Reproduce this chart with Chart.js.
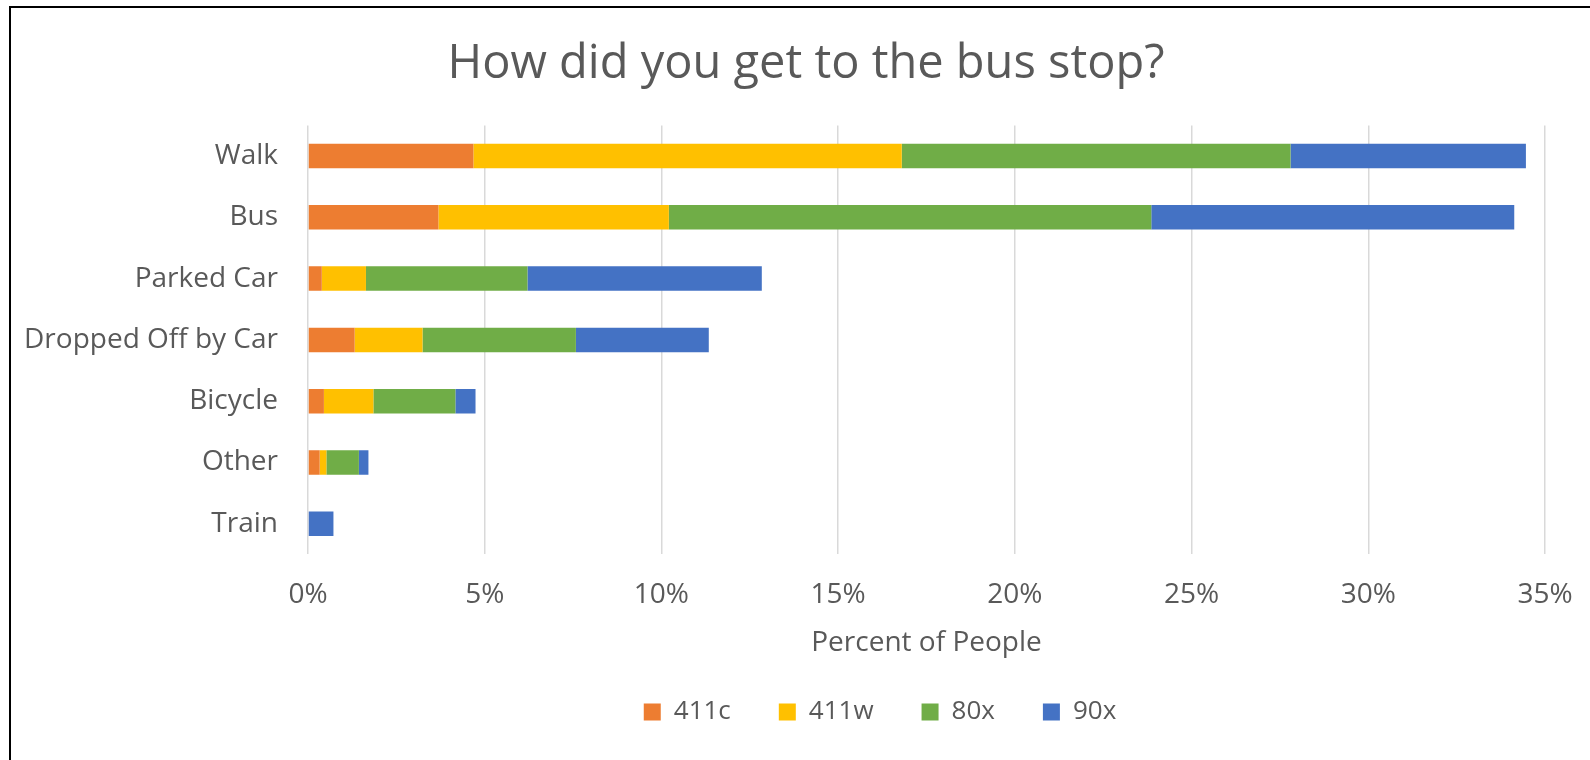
<!DOCTYPE html>
<html>
<head>
<meta charset="utf-8">
<script src="https://cdn.jsdelivr.net/npm/chart.js@4/dist/chart.umd.min.js"></script>
<style>
  body { margin: 0; background: #fff; }
  #wrap { position: relative; width: 1590px; height: 760px; }
  #frame {
    position: absolute; left: 9px; top: 6px; right: 0; bottom: 0;
    border-left: 2px solid #000; border-top: 2px solid #000;
    pointer-events: none;
  }
</style>
</head>
<body>
<div id="wrap">
  <canvas id="busChart" width="1590" height="760"></canvas>
  <div id="frame"></div>
</div>
<script>
// Categories (top to bottom)
const categories = ["Walk", "Bus", "Parked Car", "Dropped Off by Car", "Bicycle", "Other", "Train"];

// Percent of people per route
const route411c = [4.68, 3.69, 0.39, 1.32, 0.45, 0.33, 0];
const route411w = [12.12, 6.52, 1.25, 1.92, 1.40, 0.19, 0];
const route80x = [11.00, 13.65, 4.57, 4.34, 2.32, 0.92, 0];
const route90x = [6.66, 10.27, 6.63, 3.76, 0.57, 0.27, 0.72];

// Axis ticks
const xTicks = [0, 5, 10, 15, 20, 25, 30, 35];

const textColor = "#595959";
const fontFamily = "'Open Sans', 'DejaVu Sans', sans-serif";

// title and legend are not centred on the same point in the original
const shiftBlocks = {
    id: "shiftBlocks",
    afterLayout(chart) {
        chart.titleBlock.left += 33.5;
        chart.titleBlock.right += 33.5;
        chart.legend.left += 107.5;
        chart.legend.right += 107.5;
    },
};

const data = {
    labels: categories,
    datasets: [
        { label: "411c", data: route411c, backgroundColor: "#ED7D31" },
        { label: "411w", data: route411w, backgroundColor: "#FFC000" },
        { label: "80x", data: route80x, backgroundColor: "#70AD47" },
        { label: "90x", data: route90x, backgroundColor: "#4472C4" },
    ],
};

const config = {
    type: "bar",
    data: data,
    plugins: [shiftBlocks],
    options: {
        indexAxis: "y",
        responsive: false,
        animation: false,
        layout: {
            autoPadding: false,
            padding: { left: 0, right: 45, top: 0, bottom: 25 },
        },
        datasets: {
            bar: { categoryPercentage: 1, barPercentage: 0.4, borderWidth: 0 },
        },
        plugins: {
            tooltip: { enabled: false },
            title: {
                display: true,
                text: "How did you get to the bus stop?",
                color: textColor,
                font: { family: fontFamily, size: 47, weight: "normal", lineHeight: 1.2 },
                padding: { top: 36, bottom: 33 },
            },
            legend: {
                position: "bottom",
                labels: {
                    color: textColor,
                    font: { family: fontFamily, size: 26 },
                    boxWidth: 17,
                    boxHeight: 17,
                    padding: 48,
                },
            },
        },
        scales: {
            x: {
                stacked: true,
                min: 0,
                max: 35,
                afterBuildTicks: (scale) => {
                    scale.ticks = xTicks.map((v) => ({ value: v }));
                },
                afterFit: (scale) => {
                    scale.height = 96.6;
                    // the "35%" label may hang past the plot edge
                    scale.paddingLeft = 0;
                    scale.paddingRight = 0;
                },
                ticks: {
                    color: textColor,
                    font: { family: fontFamily, size: 28 },
                    padding: 24,
                    maxRotation: 0,
                    callback: (v) => v + "%",
                },
                grid: { color: "#D9D9D9", lineWidth: 1.5, drawTicks: false },
                border: { display: false },
                title: {
                    display: true,
                    text: "Percent of People",
                    color: textColor,
                    font: { family: fontFamily, size: 28 },
                    padding: { top: 0, bottom: -8.8 },
                },
            },
            y: {
                stacked: true,
                afterFit: (scale) => {
                    scale.width = 308;
                },
                ticks: {
                    color: textColor,
                    font: { family: fontFamily, size: 28 },
                    padding: 22,
                },
                grid: { display: false },
                border: { display: false },
            },
        },
    },
};

const busChart = new Chart(document.getElementById("busChart"), config);
</script>
</body>
</html>
